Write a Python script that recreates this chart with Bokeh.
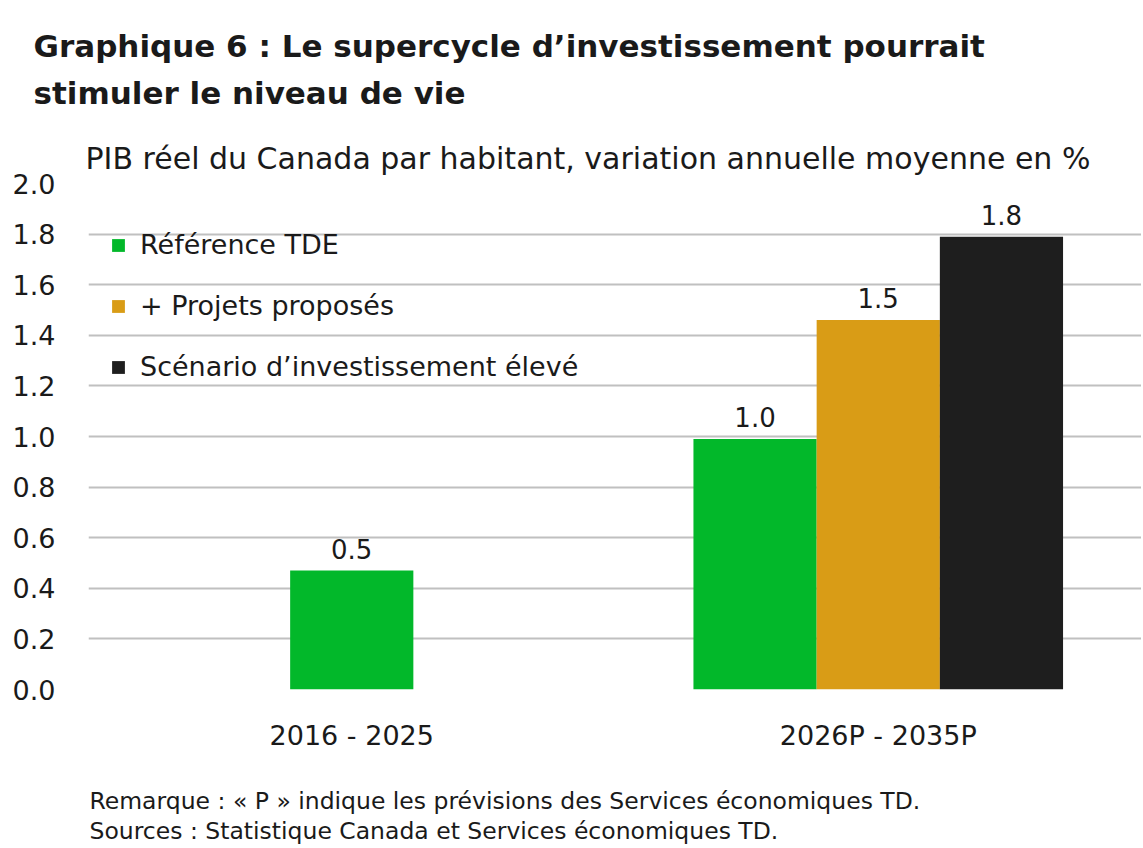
from bokeh.plotting import figure
from bokeh.layouts import column
from bokeh.models import (FactorRange, ColumnDataSource, Legend, LegendItem, LabelSet, Label,
                          FixedTicker, Range1d, PrintfTickFormatter, Title)
from bokeh.core.properties import value
from bokeh.embed import file_html
from bokeh.resources import INLINE

# ---- data ----
periods = ["2016 - 2025", "2026P - 2035P"]
series = ["Référence TDE", "+ Projets proposés", "Scénario d’investissement élevé"]
colors = ["#02b82a", "#d99c16", "#1e1e1e"]
reference = [0.47, 0.99]
proposed = [None, 1.46]
high = [None, 1.79]
y_ticks = [0.0, 0.2, 0.4, 0.6, 0.8, 1.0, 1.2, 1.4, 1.6, 1.8, 2.0]

title_lines = ["Graphique 6 : Le supercycle d’investissement pourrait",
               "stimuler le niveau de vie"]
subtitle = "PIB réel du Canada par habitant, variation annuelle moyenne en %"
notes = ["Remarque : « P » indique les prévisions des Services économiques TD.",
         "Sources : Statistique Canada et Services économiques TD."]

FONT = "DejaVu Sans"
TXT = "#1a1a1a"
BAR_W = 0.234
W = 1141


def text_panel(height):
    f = figure(width=W, height=height, x_range=Range1d(0, W), y_range=Range1d(height, 0),
               output_backend="svg", toolbar_location=None, x_axis_type=None, y_axis_type=None,
               min_border=0, min_border_left=0, min_border_right=0, min_border_top=0,
               min_border_bottom=0, frame_align=False)
    f.outline_line_color = None
    f.xgrid.visible = False
    f.ygrid.visible = False
    return f


# ---- header ----
TOP_H = 130
top = text_panel(TOP_H)
for line, y in zip(title_lines, [45, 92]):
    top.add_layout(Label(x=33, y=y, text=line, text_font=FONT, text_font_size="31px",
                         text_font_style="bold", text_color=TXT, text_baseline="middle"))

# ---- main chart ----
xs, tops, cols, labels, sidx = [], [], [], [], []
for pi, per in enumerate(periods):
    present = [(si, vals[pi]) for si, vals in enumerate([reference, proposed, high]) if vals[pi] is not None]
    n = len(present)
    for k, (si, v) in enumerate(present):
        off = (k - (n - 1) / 2) * BAR_W
        xs.append((per, off))
        tops.append(v)
        cols.append(colors[si])
        labels.append(f"{v:.1f}")
        sidx.append(si)

src = ColumnDataSource(dict(x=xs, top=tops, color=cols, label=labels))

p = figure(width=W, height=52 + 507 + 80, x_range=FactorRange(*periods), y_range=Range1d(0, 2.0),
           output_backend="svg", toolbar_location=None, frame_align=False,
           min_border_left=88, min_border_right=0, min_border_top=10, min_border_bottom=80)
p.outline_line_color = None
p.background_fill_color = "white"

p.add_layout(Title(text=subtitle, text_font=FONT, text_font_size="30px",
                   text_font_style="normal", text_color=TXT, align="left", offset=-3,
                   standoff=16), "above")

r = p.vbar(x="x", top="top", width=BAR_W, color="color", source=src, line_color=None)

p.add_layout(LabelSet(x="x", y="top", text="label", source=src, text_align="center",
                      text_baseline="bottom", y_offset=12, text_font=value(FONT),
                      text_font_size="26px", text_color=TXT))

p.yaxis.ticker = FixedTicker(ticks=y_ticks)
p.yaxis.formatter = PrintfTickFormatter(format="%.1f")
for ax in (p.xaxis[0], p.yaxis[0]):
    ax.axis_line_color = None
    ax.major_tick_line_color = None
    ax.minor_tick_line_color = None
    ax.major_label_text_font = FONT
    ax.major_label_text_color = TXT
p.yaxis.major_label_text_font_size = "27px"
p.yaxis.major_label_standoff = 27
p.xaxis.major_label_text_font_size = "27px"
p.xaxis.major_label_standoff = 24

p.xgrid.grid_line_color = None
p.ygrid.grid_line_color = "#c0c0c0"
p.ygrid.grid_line_width = 2

items = []
for si, name in enumerate(series):
    idx = sidx.index(si)
    items.append(LegendItem(label=name, renderers=[r], index=idx))
leg = Legend(items=items, location=(22, 307), orientation="vertical",
             label_text_font=FONT, label_text_font_size="27px", label_text_color=TXT,
             glyph_width=16, glyph_height=16, label_height=30, spacing=30,
             label_standoff=14, padding=0, margin=0, border_line_color=None,
             background_fill_alpha=0)
p.add_layout(leg)

# ---- footer ----
BOT_H = 76
bot = text_panel(BOT_H)
for line, y in zip(notes, [31, 61]):
    bot.add_layout(Label(x=89, y=y, text=line, text_font=FONT, text_font_size="23.5px",
                         text_color=TXT, text_baseline="middle"))

layout = column(top, p, bot, spacing=0)
open("out.html", "w").write(file_html(layout, INLINE))
